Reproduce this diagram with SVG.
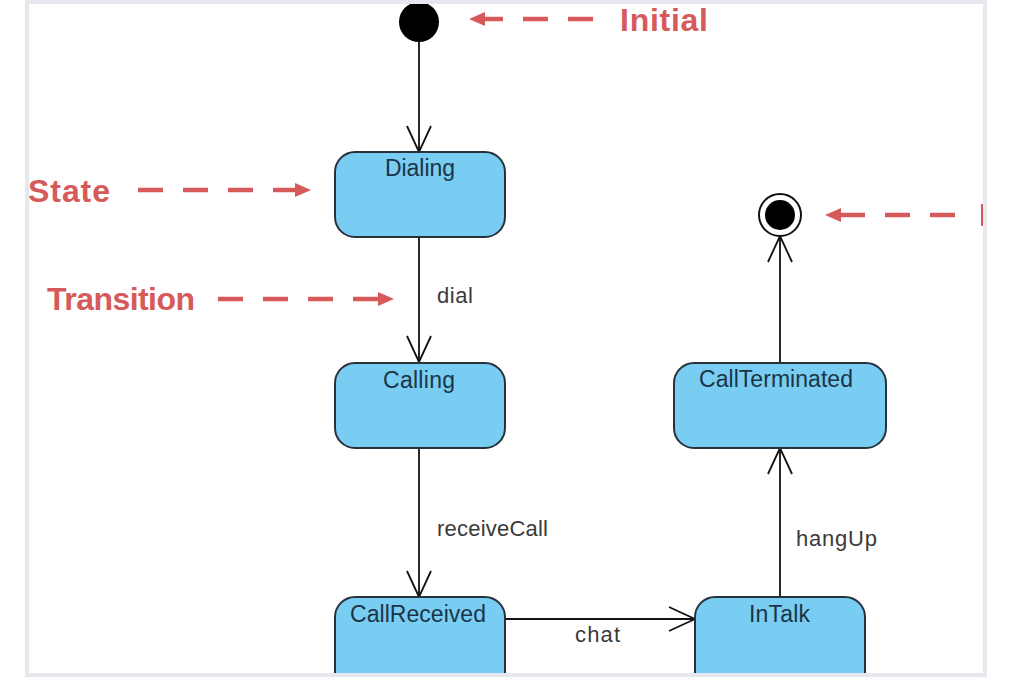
<svg xmlns="http://www.w3.org/2000/svg" width="1012" height="684" viewBox="0 0 1012 684">
<style>
.state{fill:#79ccf2;stroke:#27333c;stroke-width:2}
.stxt{font-family:"Liberation Sans",Arial,sans-serif;font-size:23px;fill:#1b3547}
.conn{fill:none;stroke:#111;stroke-width:1.8}
.ltxt{font-family:"Liberation Sans",Arial,sans-serif;font-size:22px;fill:#3a3a3a}
.ann{font-family:"Liberation Sans",Arial,sans-serif;font-weight:bold;font-size:32px;fill:#d65a5a}
.dash{fill:none;stroke:#d65a5a;stroke-width:4.5;stroke-dasharray:25 20}
</style>
<defs>
<marker id="open" markerUnits="userSpaceOnUse" viewBox="0 0 28 28" refX="27" refY="14" markerWidth="28" markerHeight="28" orient="auto">
<path d="M1,2 L27,14 L1,26" fill="none" stroke="#111" stroke-width="1.8"/>
</marker>
<marker id="red" markerUnits="userSpaceOnUse" viewBox="0 0 16 16" refX="15" refY="8" markerWidth="16" markerHeight="16" orient="auto">
<path d="M0,1 L16,8 L0,15 Z" fill="#d65a5a"/>
</marker>
<clipPath id="frameClip"><rect x="29" y="4" width="954" height="669"/></clipPath>
</defs>
<rect x="0" y="0" width="1012" height="684" fill="#fff"/>
<rect x="27" y="2" width="958" height="673" fill="#fff" stroke="#e6e8ee" stroke-width="4"/>
<g clip-path="url(#frameClip)">
<g id="connectors">
<path class="conn" d="M419,41 V152" marker-end="url(#open)"/>
<path class="conn" d="M419,237 V362" marker-end="url(#open)"/>
<path class="conn" d="M419,448 V597" marker-end="url(#open)"/>
<path class="conn" d="M505,619 H695" marker-end="url(#open)"/>
<path class="conn" d="M780,597 V448" marker-end="url(#open)"/>
<path class="conn" d="M780,363 V236" marker-end="url(#open)"/>
<text class="ltxt" x="437" y="303" textLength="36">dial</text>
<text class="ltxt" x="437" y="536" textLength="111">receiveCall</text>
<text class="ltxt" x="575" y="642" textLength="45">chat</text>
<text class="ltxt" x="796" y="546" textLength="81">hangUp</text>
</g>
<g id="initial"><circle cx="419" cy="22" r="20" fill="#000"/></g>
<g id="final"><circle cx="780" cy="215" r="21" fill="#fff" stroke="#111" stroke-width="2"/><circle cx="780" cy="215" r="15" fill="#000"/></g>
<g id="dialing"><rect class="state" x="335" y="152" width="170" height="85" rx="20"/><text class="stxt" x="385" y="176" textLength="70">Dialing</text></g>
<g id="calling"><rect class="state" x="335" y="363" width="170" height="85" rx="20"/><text class="stxt" x="383" y="388" textLength="72">Calling</text></g>
<g id="callReceived"><rect class="state" x="335" y="597" width="170" height="110" rx="20"/><text class="stxt" x="350" y="622" textLength="136">CallReceived</text></g>
<g id="inTalk"><rect class="state" x="695" y="597" width="170" height="110" rx="20"/><text class="stxt" x="749" y="622" textLength="61">InTalk</text></g>
<g id="callTerminated"><rect class="state" x="674" y="363" width="212" height="85" rx="20"/><text class="stxt" x="699" y="387" textLength="154">CallTerminated</text></g>
<g id="annotations">
<text class="ann" x="620" y="31" textLength="88">Initial</text>
<path class="dash" d="M593,19 H470" marker-end="url(#red)"/>
<text class="ann" x="28" y="202" textLength="82">State</text>
<path class="dash" d="M138,190 H310" marker-end="url(#red)"/>
<text class="ann" x="47" y="310" textLength="148">Transition</text>
<path class="dash" d="M218,299 H393" marker-end="url(#red)"/>
<path class="dash" d="M955,215 H826" marker-end="url(#red)"/>
<rect x="981" y="204" width="2.5" height="22" fill="#d65a5a"/>
</g>
</g>
</svg>
